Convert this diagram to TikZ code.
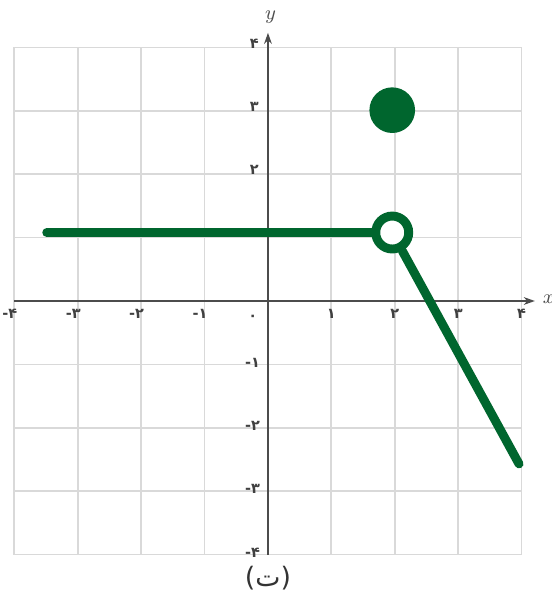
\documentclass[tikz,border=0pt]{standalone}
\usepackage{fontspec}
\newfontfamily\farsifont[Script=Arabic]{DejaVu Sans}
\newfontfamily\digitfont{DejaVu Sans}
\usetikzlibrary{arrows.meta}
\definecolor{plotgreen}{RGB}{0,102,46}
\tikzset{
  gridline/.style={draw=gray!30, line width=0.8pt},
  axisline/.style={draw=black!70, line width=0.7pt, -{Stealth[length=5pt,width=3.5pt]}},
  ticklabel/.style={font=\digitfont\bfseries\fontsize{6.5}{7}\selectfont, text=black!75, inner sep=0.5pt},
  graphline/.style={draw=plotgreen, line width=4pt, line cap=round},
  closeddot/.style={circle, fill=plotgreen, minimum size=0.72cm, inner sep=0pt},
  opendot/.style={circle, draw=plotgreen, line width=4pt, fill=white, minimum size=0.52cm, inner sep=0pt}
}

\begin{document}
\begin{tikzpicture}
\useasboundingbox[fill=white] (-4.227,-4.811) rectangle (4.479,4.748);

% grid and axes
\draw[gridline] (-4,-4) grid (4,4);
\coordinate (xstart) at (-4,0);
\coordinate (xend) at (4.21,0);
\coordinate (ystart) at (0,-4);
\coordinate (yend) at (0,4.23);
\draw[axisline] (xstart) -- (xend);
\draw[axisline] (ystart) -- (yend);
\node[font=\itshape\small, text=black!70] (xlabel) at (4.43,0.03) {$x$};
\node[font=\itshape\small, text=black!70] (ylabel) at (0.04,4.47) {$y$};

% tick labels
\foreach \v/\t in {1/۱, 2/۲, 3/۳, 4/۴}
  \node[ticklabel, anchor=north] (xt\v) at (\v,-0.1) {\t};
\foreach \v/\t in {1/۱, 2/۲, 3/۳, 4/۴}
  \node[ticklabel, anchor=north east] (xn\v) at (-\v+0.07,-0.1) {-\t};
\foreach \v/\t in {2/۲, 3/۳, 4/۴}
  \node[ticklabel, anchor=east] (yt\v) at (-0.12,\v+0.06) {\t};
\foreach \v/\t in {1/۱, 2/۲, 3/۳, 4/۴}
  \node[ticklabel, anchor=east] (yn\v) at (-0.1,-\v+0.03) {-\t};
\node[ticklabel] (origin) at (-0.24,-0.27) {۰};

% graph
\node[closeddot] (filled) at (1.96,3.01) {};
\node[opendot] (hole) at (1.96,1.08) {};
\coordinate (left) at (-3.49,1.08);
\coordinate (right) at (3.96,-2.57);
\draw[graphline] (left) -- (hole);
\draw[graphline] (hole) -- (right);

\node[font=\farsifont\fontsize{12}{14}\selectfont, text=black!80] (caption) at (0,-4.37) {(ت)};
\end{tikzpicture}
\end{document}
